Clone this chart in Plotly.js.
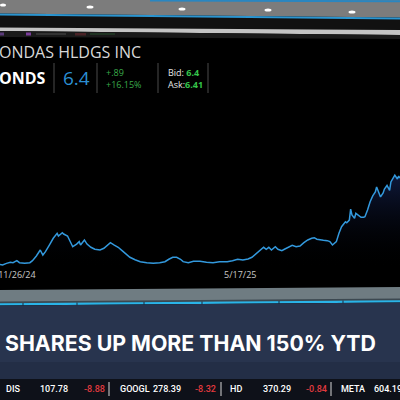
<!DOCTYPE html>
<html><head><meta charset="utf-8">
<script src="https://cdn.plot.ly/plotly-3.0.1.min.js"></script>
<style>html,body{margin:0;padding:0;background:#000;overflow:hidden}#chart{width:400px;height:400px}</style>
</head><body><div id="chart"></div>
<script>
// ---- data ----
const dates = [
 '2024-11-13','2024-11-15','2024-11-18','2024-11-21','2024-11-23','2024-11-26','2024-11-28',
 '2024-12-02','2024-12-06','2024-12-08','2024-12-11','2024-12-14','2024-12-16','2024-12-18','2024-12-21','2024-12-24','2024-12-27','2024-12-28','2024-12-31',
 '2025-01-01','2025-01-04','2025-01-06','2025-01-08','2025-01-11','2025-01-13','2025-01-14','2025-01-17','2025-01-19','2025-01-22','2025-01-25','2025-01-29',
 '2025-02-01','2025-02-04','2025-02-06','2025-02-09','2025-02-12','2025-02-15','2025-02-18','2025-02-21','2025-02-25',
 '2025-03-01','2025-03-06','2025-03-11','2025-03-16','2025-03-20','2025-03-23','2025-03-26','2025-03-29',
 '2025-04-01','2025-04-03','2025-04-07','2025-04-11','2025-04-16','2025-04-21','2025-04-26',
 '2025-05-01','2025-05-07','2025-05-11','2025-05-15','2025-05-19','2025-05-23','2025-05-26','2025-05-28','2025-05-30',
 '2025-06-01','2025-06-04','2025-06-06','2025-06-08','2025-06-10','2025-06-13','2025-06-15','2025-06-18','2025-06-20','2025-06-23','2025-06-26','2025-06-29',
 '2025-07-02','2025-07-05','2025-07-08','2025-07-11','2025-07-13','2025-07-15','2025-07-17','2025-07-20','2025-07-23','2025-07-25','2025-07-27','2025-07-30',
 '2025-08-01','2025-08-03','2025-08-06','2025-08-07','2025-08-09','2025-08-10','2025-08-11','2025-08-13','2025-08-14','2025-08-16','2025-08-18','2025-08-20','2025-08-21','2025-08-23','2025-08-25','2025-08-27','2025-08-29','2025-08-30',
 '2025-09-01','2025-09-02','2025-09-04','2025-09-05','2025-09-07','2025-09-09','2025-09-10','2025-09-12','2025-09-13','2025-09-15','2025-09-16','2025-09-17'
];
const prices = [
 0.27,0.23,0.35,0.43,0.40,0.54,0.40,
 0.35,0.40,0.54,0.87,1.30,0.94,1.18,1.65,2.13,2.48,2.29,2.52,
 2.43,2.29,1.89,1.53,1.72,1.89,1.65,2.01,1.72,1.49,1.35,1.30,
 1.42,1.65,1.82,1.65,1.49,1.25,1.01,0.78,0.61,
 0.47,0.40,0.35,0.40,0.47,0.64,0.78,0.78,
 0.64,0.47,0.40,0.50,0.50,0.43,0.40,
 0.47,0.47,0.54,0.64,0.59,0.66,0.78,0.94,1.08,
 1.30,1.49,1.35,1.49,1.30,1.53,1.35,1.25,1.35,1.49,1.63,1.53,
 1.58,1.82,2.01,2.13,2.17,2.06,2.01,1.99,1.96,1.89,1.65,1.89,
 2.48,2.95,3.30,3.23,3.42,4.20,3.78,3.55,3.90,3.78,3.62,3.62,3.66,4.13,4.72,5.13,5.41,5.76,
 5.34,5.06,5.34,5.62,5.87,5.52,6.12,6.47,6.61,6.33,6.54,6.40
];
const tickDates = ['2024-11-26','2025-05-17'];
const tickLabels = ['11/26/24','5/17/25'];

const companyName = 'ONDAS HLDGS INC';
const symbol = 'ONDS';
const lastPrice = '6.4';
const netChange = '+.89';
const pctChange = '+16.15%';
const bidPrice = '6.4';
const askPrice = '6.41';
const headline = 'SHARES UP MORE THAN 150% YTD';
const tickerSymbols = ['DIS','GOOGL','HD','META'];
const tickerPrices = ['107.78','278.39','370.29','604.19'];
const tickerChanges = ['-8.88','-8.32','-0.84',''];

// ---- helpers (pixel -> paper) ----
const W = 400, H = 400;
const px = x => x / W, py = y => 1 - y / H;
function poly(pts, color){
  return {type:'path', xref:'paper', yref:'paper', layer:'below',
    path: 'M' + pts.map(p => px(p[0]) + ' ' + py(p[1])).join(' L') + ' Z',
    fillcolor: color, line:{width:0}};
}
function seg(x0,y0,x1,y1,color,w){
  return {type:'line', xref:'paper', yref:'paper', layer:'below',
    x0:px(x0), y0:py(y0), x1:px(x1), y1:py(y1), line:{color:color, width:w}};
}
function dot(x,y,rx,ry,color){
  return {type:'circle', xref:'paper', yref:'paper', layer:'below',
    x0:px(x-rx), x1:px(x+rx), y0:py(y+ry), y1:py(y-ry), fillcolor:color, line:{width:0}};
}
function txt(text,x,y,size,color,opts){
  opts = opts || {};
  return {text:text, xref:'paper', yref:'paper', x:px(x), y:py(y), xanchor:opts.anchor||'left', yanchor:'middle',
    align:'left', showarrow:false, borderpad:0,
    font:{family:opts.family||'Open Sans', size:size, color:color, weight:opts.weight||400}};
}

const shapes = [
  // top bezel
  poly([[0,0],[400,0],[400,17.5],[0,13.5]], '#7c7c7c'),
  seg(150,0.6,400,1.2,'#2a86c0',2),
  dot(3,5,3,1.6,'#ffffff'), dot(90,7,3.5,1.6,'#ffffff'), dot(182,9,3.5,1.6,'#ffffff'),
  dot(268,10,3.5,1.6,'#ffffff'), dot(352,12,3.5,1.6,'#ffffff'),
  poly([[0,14],[400,18],[400,30],[0,27.5]], '#111111'),
  seg(0,14.6,400,18.6,'#2b95d0',2),
  poly([[0,27.5],[400,30],[400,35],[0,31]], '#c4c4c4'),
  poly([[0,31],[400,35],[400,39],[0,37]], '#1a1a1a'),
  // tiny browser-tab marks
  poly([[0,32.5],[4,32.5],[4,35.5],[0,35.5]], '#5a3a7a'),
  poly([[26,32.5],[31,32.5],[31,35.5],[26,35.5]], '#7a3d9a'),
  poly([[36,33],[66,33],[66,35],[36,35]], '#333333'),
  poly([[75,33],[86,33],[86,35.5],[75,35.5]], '#4a2226'),
  poly([[90,33],[115,33],[115,35],[90,35]], '#1f3322'),
  // header dividers
  seg(54,63,54,93,'#4a4a4a',1), seg(97,63,97,93,'#4a4a4a',1),
  seg(158,63,158,93,'#4a4a4a',1), seg(208,63,208,93,'#4a4a4a',1),
  // bottom bezel
  poly([[0,290],[400,287],[400,300.5],[0,303.5]], '#6f7c82'),
  poly([[0,301.5],[400,298.5],[400,300.5],[0,303.5]], '#3c4850'),
  poly([[0,303.2],[400,300.2],[400,302.6],[0,305.6]], '#2ab4e8'),
  poly([[0,305.6],[400,302.6],[400,379],[0,379]], '#28344e'),
  poly([[0,362],[400,362],[400,379],[0,379]], '#232e46'),
  poly([[0,379],[400,379],[400,400],[0,400]], '#0e1119'),
  seg(23,303,23,306,'#1b2a40',1), seg(77,302.5,77,305.5,'#1b2a40',1), seg(144,302,144,305,'#1b2a40',1),
  seg(202,301.5,202,304.5,'#1b2a40',1), seg(279,301,279,304,'#1b2a40',1), seg(343,300.5,343,303.5,'#1b2a40',1),
  // ticker dividers
  seg(109,382,109,396,'#d8d8d8',1), seg(221,382,221,396,'#d8d8d8',1), seg(331,382,331,396,'#d8d8d8',1)
];

const green = '#3aa94a', bright = '#35c44a', red = '#e23a3f';
const tickerX = [[5,39,83],[119,152,194],[229,262,305],[340,373,null]];
const annotations = [
  txt(companyName,-2,52,16,'#d8d8d8'),
  txt(symbol,-2,78,16,'#ffffff',{weight:700}),
  txt(lastPrice,62,78,19,'#2b8ed3'),
  txt(netChange + '<br>' + pctChange,105,78.2,9,green),
  txt('Bid: <b><span style="color:' + bright + '">' + bidPrice + '</span></b><br>Ask:<b><span style="color:' + bright + '">' + askPrice + '</span></b>',167,78.8,9,'#e6e6e6'),
  txt(headline,4,343,21.3,'#ffffff',{family:'Inter',weight:700})
];
tickerSymbols.forEach((s,i)=>{
  annotations.push(txt(s,tickerX[i][0],389,9,'#ffffff',{family:'Roboto',weight:500}));
  annotations.push(txt(tickerPrices[i],tickerX[i][1],389,9,'#ffffff',{family:'Roboto',weight:500}));
  if (tickerChanges[i]) annotations.push(txt(tickerChanges[i],tickerX[i][2],389,9,red,{family:'Roboto',weight:500}));
});

const trace = {
  type:'scatter', mode:'lines', x:dates, y:prices,
  line:{color:'#3399dd', width:1.5},
  fill:'tozeroy',
  fillgradient:{type:'vertical', colorscale:[[0,'rgba(0,0,0,0)'],[1,'rgba(30,50,120,0.5)']]},
  hoverinfo:'skip'
};

const layout = {
  width:400, height:400,
  margin:{l:0,r:0,t:0,b:0},
  paper_bgcolor:'#000000', plot_bgcolor:'rgba(0,0,0,0)',
  showlegend:false,
  xaxis:{domain:[0,1], type:'date', range:['2024-11-13','2025-09-17'],
    showgrid:false, zeroline:false, showline:false, ticks:'',
    tickmode:'array', tickvals:tickDates, ticktext:tickLabels,
    ticklabeloverflow:'allow',
    tickfont:{family:'Open Sans', size:9, color:'#c8c8c8'}},
  yaxis:{domain:[py(268.3), py(37)], range:[0,16.4], visible:false, showgrid:false, zeroline:false},
  shapes:shapes,
  annotations:annotations
};

Plotly.newPlot('chart',[trace],layout,{displayModeBar:false,staticPlot:true});
</script>
</body></html>
